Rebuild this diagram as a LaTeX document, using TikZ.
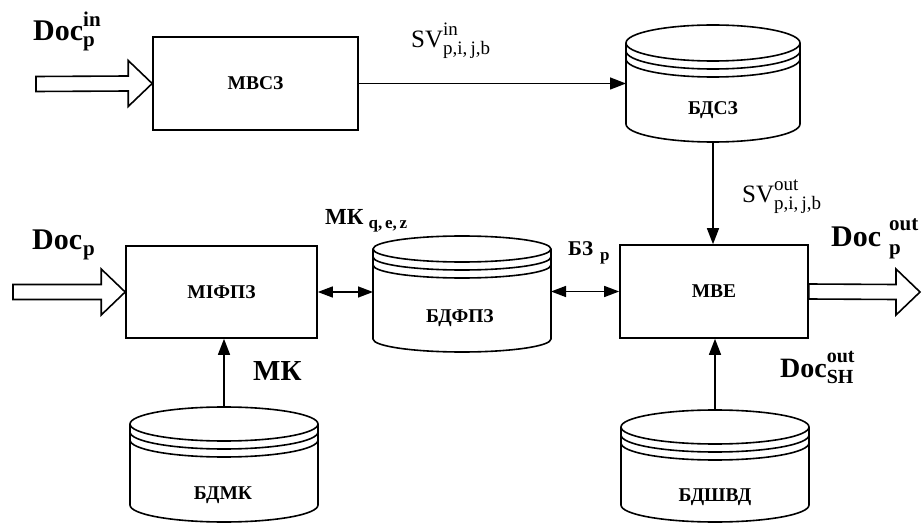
\documentclass[tikz,border=0pt]{standalone}
\usepackage{amsmath}
\usepackage{fontspec}
\setmainfont{Liberation Serif}
\usetikzlibrary{arrows.meta,calc}

% database drum: centre x, top y, half width, height, y radius
\newcommand{\dbcyl}[5]{%
  \draw[dbline] (#1,#2+#5) ellipse[x radius=#3, y radius=#5];
  \draw[dbline] (#1-#3,#2+#5) -- (#1-#3,#2+#4-#5)
    arc[start angle=180, end angle=0, x radius=#3, y radius=#5] -- (#1+#3,#2+#5);
  \foreach \g in {8,16}
    \draw[dbline] (#1-#3,#2+#5+\g) arc[start angle=180, end angle=0, x radius=#3, y radius=#5];
}
% hollow document arrow from #1 to #2
\newcommand{\fatarrow}[2]{%
  \draw[fatline] ($(#1)+(0,-7.5)$) -- ($(#2)+(-24,-7.5)$) -- ($(#2)+(-24,-23)$) -- (#2)
    -- ($(#2)+(-24,23)$) -- ($(#2)+(-24,7.5)$) -- ($(#1)+(0,7.5)$) -- cycle;
}
% upper and lower index set by hand
\newcommand{\updown}[4]{\rlap{\raisebox{#3}{#1}}\raisebox{#4}{#2}}

\begin{document}
\begin{tikzpicture}[x=1pt, y=-1pt,
  block/.style={draw, line width=1.6pt, inner sep=0pt, font=\fontsize{19.5}{22}\selectfont\bfseries},
  dbarea/.style={inner sep=0pt, outer sep=0pt},
  dbline/.style={line width=1.6pt},
  dbtext/.style={inner sep=0pt, font=\fontsize{19.5}{22}\selectfont\bfseries},
  fatline/.style={line width=1.6pt, line join=miter},
  flow/.style={line width=1.4pt, -{Triangle[length=16pt,width=12pt]}},
  both/.style={line width=1.4pt, {Triangle[length=15pt,width=11pt]}-{Triangle[length=15pt,width=11pt]}},
  doclabel/.style={inner sep=0pt, anchor=base west, font=\fontsize{30}{34}\selectfont\bfseries},
  svlabel/.style={inner sep=0pt, anchor=base west, font=\fontsize{25}{30}\selectfont},
  mklabel/.style={inner sep=0pt, anchor=base west, font=\fontsize{23}{27}\selectfont\bfseries}]
\useasboundingbox (0,0) rectangle (922,524);

% modules
\node[block, minimum width=205pt, minimum height=93pt] (mvsz) at (255.5,83.5) {МВСЗ\hspace{17pt}};
\node[block, minimum width=191pt, minimum height=92pt] (mifpz) at (221.5,292) {МІФПЗ};
\node[block, minimum width=188pt, minimum height=93pt] (mve) at (714,291.5) {МВЕ};

% databases
\node[dbarea, minimum width=174pt, minimum height=117pt] (bdsz) at (713,83.5) {};
\dbcyl{713}{25}{87}{117}{18}
\node[dbtext] (bdsz-t) at (713,110) {БДСЗ};
\node[dbarea, minimum width=178pt, minimum height=116pt] (bdfpz) at (462,294) {};
\dbcyl{462}{236}{89}{116}{13}
\node[dbtext] (bdfpz-t) at (460,318) {БДФПЗ};
\node[dbarea, minimum width=188pt, minimum height=115pt] (bdmk) at (224,464.5) {};
\dbcyl{224}{407}{94}{115}{17}
\node[dbtext] (bdmk-t) at (223,495) {БДМК};
\node[dbarea, minimum width=188pt, minimum height=112pt] (bdshvd) at (715,466) {};
\dbcyl{715}{410}{94}{112}{17}
\node[dbtext] (bdshvd-t) at (715,497) {БДШВД};

% document flows
\coordinate (docin) at (36,84);
\coordinate (docp) at (13,292);
\coordinate (docout) at (920,292);
\fatarrow{docin}{mvsz.west}
\fatarrow{docp}{mifpz.west}
\fatarrow{mve.east}{docout}

% connectors
\draw[flow](mvsz.east) -- (bdsz.west);
\draw[flow](bdsz.south) -- (bdsz.south |- mve.north);
\draw[flow](bdmk.north) -- (bdmk.north |- mifpz.south);
\draw[flow](bdshvd.north) -- (bdshvd.north |- mve.south);
\draw[both](mifpz.east) -- (mifpz.east -| bdfpz.west);
\draw[both](mve.west -| bdfpz.east) -- (mve.west);

% labels
\node[doclabel] (docin-l) at (33,41) {Doc\updown{\fontsize{21}{22}\selectfont in}{\fontsize{21}{22}\selectfont p}{14pt}{-6pt}};
\node[doclabel] (docp-l) at (32,249) {Doc\hspace{1pt}\raisebox{-6pt}{\fontsize{21}{22}\selectfont p}};
\node[doclabel] (docout-l) at (831,247) {Doc\hspace{8pt}\updown{\fontsize{21}{22}\selectfont out}{\fontsize{21}{22}\selectfont p}{17pt}{-8pt}};
\node[doclabel, font=\fontsize{28}{32}\selectfont\bfseries] (docsh-l) at (780,377) {Doc\updown{\fontsize{20}{22}\selectfont out}{\fontsize{20}{22}\selectfont SH}{15pt}{-6pt}};
\node[svlabel] (svin-l) at (411,48) {SV\updown{\fontsize{19}{20}\selectfont in}{\fontsize{19}{20}\selectfont p,i,\,j,b}{12pt}{-7pt}};
\node[svlabel] (svout-l) at (742,203) {SV\updown{\fontsize{19}{20}\selectfont out}{\fontsize{19}{20}\selectfont p,i,\,j,b}{12pt}{-7pt}};
\node[mklabel] (mkqez-l) at (325,225) {МК\hspace{5pt}\raisebox{-4pt}{\fontsize{17}{18}\selectfont q,\,e,\,z}};
\node[mklabel, font=\fontsize{21}{25}\selectfont\bfseries] (bzp-l) at (568,255) {БЗ\hspace{7pt}\raisebox{-5pt}{\fontsize{17}{18}\selectfont p}};
\node[mklabel, font=\fontsize{29}{33}\selectfont\bfseries] (mk-l) at (253,380) {МК};
\end{tikzpicture}
\end{document}
